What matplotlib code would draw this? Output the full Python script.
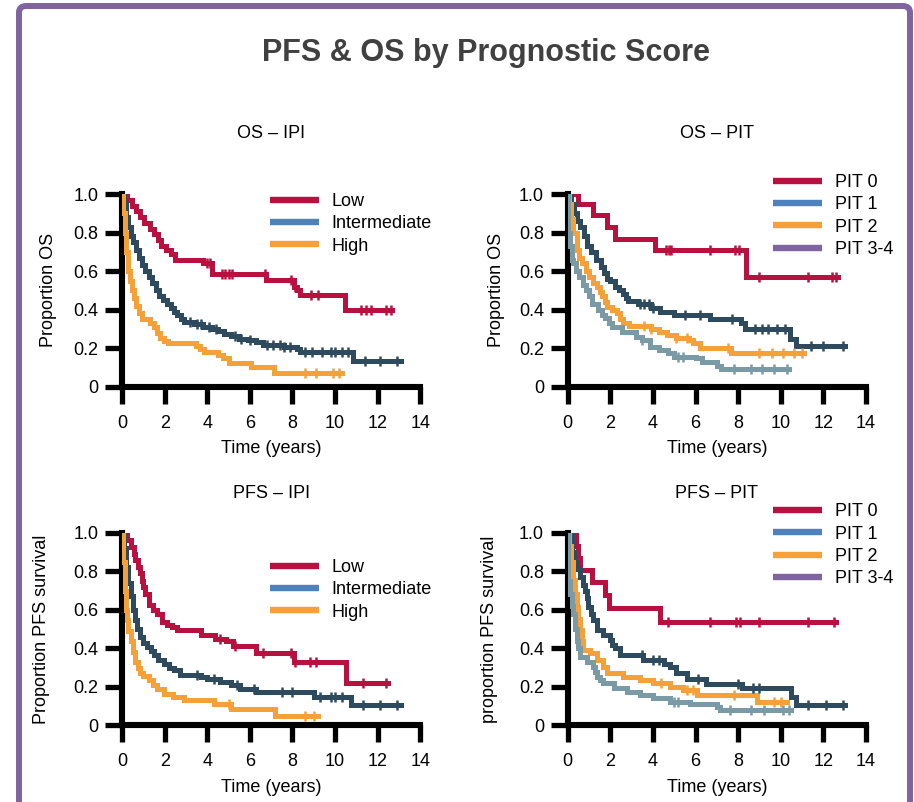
import numpy as np
import matplotlib
matplotlib.use("Agg")
import matplotlib.pyplot as plt
from matplotlib.lines import Line2D
from matplotlib.patches import FancyBboxPatch

plt.rcParams['font.family'] = ['Liberation Sans', 'DejaVu Sans']

# ---- colours ----
RED = '#B8113F'
SLATE = '#2E4A5E'
ORANGE = '#F6A03A'
GREYBLUE = '#7A9BA6'
KEY_BLUE = '#4F81BD'
KEY_PURPLE = '#8064A2'
FRAME = '#8064A2'

# ---- axis ticks ----
x_ticks = [0, 2, 4, 6, 8, 10, 12, 14]
y_ticks = [0, 0.2, 0.4, 0.6, 0.8, 1.0]
y_tick_labels = ['0', '0.2', '0.4', '0.6', '0.8', '1.0']

# ---- OS by IPI ----
os_ipi_low_t = [0, 0.25, 0.45, 0.65, 0.85, 1.05, 1.3, 1.5, 1.7, 1.85, 2.05, 2.3, 2.5, 3.8, 4.2, 6.75, 8.05, 8.2, 8.35, 10.45]
os_ipi_low_s = [1.0, 0.97, 0.94, 0.91, 0.88, 0.85, 0.82, 0.79, 0.76, 0.73, 0.71, 0.69, 0.66, 0.64, 0.586, 0.555, 0.52, 0.50, 0.477, 0.40]
os_ipi_low_end = 12.65
os_ipi_low_cens = [4.0, 4.15, 4.7, 4.85, 5.0, 5.15, 6.7, 7.95, 8.1, 8.85, 9.2, 11.2, 11.45, 11.7, 12.4, 12.6]

os_ipi_int_t = [0, 0.1, 0.2, 0.3, 0.4, 0.5, 0.65, 0.8, 0.95, 1.1, 1.25, 1.4, 1.6, 1.75, 1.9, 2.1, 2.3, 2.45, 2.6, 2.75, 2.9, 3.4, 3.8, 4.2, 4.5, 4.8, 5.1, 5.5, 5.9, 6.3, 6.6, 7.6, 8.2, 8.35, 10.85]
os_ipi_int_s = [1.0, 0.95, 0.88, 0.83, 0.78, 0.75, 0.71, 0.67, 0.63, 0.60, 0.57, 0.54, 0.50, 0.47, 0.45, 0.43, 0.41, 0.39, 0.37, 0.35, 0.335, 0.325, 0.31, 0.30, 0.29, 0.275, 0.265, 0.25, 0.24, 0.23, 0.215, 0.205, 0.195, 0.182, 0.135]
os_ipi_int_end = 13.1
os_ipi_int_cens = [3.2, 3.5, 3.7, 4.1, 4.4, 5.3, 5.6, 6.0, 6.8, 7.1, 7.4, 7.6, 7.9, 8.6, 8.9, 9.4, 9.8, 10.0, 10.3, 10.6, 11.4, 12.1, 12.9]

os_ipi_high_t = [0, 0.05, 0.12, 0.2, 0.28, 0.38, 0.45, 0.55, 0.65, 0.8, 0.95, 1.3, 1.5, 1.65, 1.8, 1.95, 2.15, 3.45, 3.65, 3.85, 4.5, 4.75, 5.0, 6.05, 7.15]
os_ipi_high_s = [1.0, 0.9, 0.8, 0.7, 0.6, 0.55, 0.5, 0.46, 0.42, 0.38, 0.35, 0.33, 0.31, 0.28, 0.255, 0.235, 0.225, 0.21, 0.195, 0.18, 0.165, 0.147, 0.125, 0.104, 0.07]
os_ipi_high_end = 10.3
os_ipi_high_cens = [8.6, 9.1, 9.9, 10.2]

# ---- OS by PIT ----
os_pit0_t = [0, 0.5, 1.2, 1.85, 2.2, 4.1, 8.35]
os_pit0_s = [1.0, 0.948, 0.89, 0.83, 0.768, 0.71, 0.568]
os_pit0_end = 12.67
os_pit0_cens = [4.6, 4.75, 4.85, 6.7, 7.85, 8.05, 9.0, 11.3, 12.4, 12.6]

os_pit1_t = [0, 0.15, 0.3, 0.45, 0.6, 0.75, 0.9, 1.1, 1.35, 1.55, 1.7, 1.85, 2.0, 2.2, 2.4, 2.6, 2.75, 2.85, 3.3, 3.9, 4.35, 5.0, 6.7, 8.15, 8.3, 10.45, 10.7]
os_pit1_s = [1.0, 0.95, 0.9, 0.86, 0.83, 0.78, 0.73, 0.70, 0.66, 0.62, 0.59, 0.56, 0.55, 0.52, 0.50, 0.48, 0.46, 0.445, 0.43, 0.41, 0.39, 0.37, 0.35, 0.33, 0.298, 0.25, 0.211]
os_pit1_end = 13.0
os_pit1_cens = [3.4, 3.6, 3.8, 4.0, 5.5, 6.2, 7.7, 8.8, 9.1, 9.4, 9.8, 10.2, 11.4, 12.0, 12.9]

os_pit2_t = [0, 0.05, 0.15, 0.27, 0.42, 0.55, 0.66, 0.85, 1.0, 1.2, 1.37, 1.5, 1.6, 1.75, 1.84, 2.1, 2.3, 2.45, 2.6, 2.9, 3.9, 4.3, 4.66, 5.1, 5.7, 5.9, 6.2, 7.65]
os_pit2_s = [1.0, 0.95, 0.87, 0.8, 0.71, 0.67, 0.64, 0.6, 0.57, 0.54, 0.52, 0.49, 0.47, 0.44, 0.416, 0.40, 0.38, 0.35, 0.33, 0.317, 0.30, 0.286, 0.27, 0.255, 0.24, 0.225, 0.203, 0.173]
os_pit2_end = 11.1
os_pit2_cens = [3.6, 3.9, 5.1, 5.6, 7.5, 9.0, 9.6, 10.1, 10.6, 11.0]

os_pit34_t = [0, 0.02, 0.1, 0.2, 0.27, 0.4, 0.55, 0.7, 0.85, 1.0, 1.15, 1.4, 1.6, 1.75, 1.95, 2.1, 2.55, 3.2, 3.5, 3.85, 4.3, 4.7, 5.0, 6.0, 6.3, 7.0, 7.2]
os_pit34_s = [1.0, 0.8, 0.73, 0.66, 0.64, 0.6, 0.57, 0.53, 0.5, 0.47, 0.43, 0.40, 0.37, 0.355, 0.33, 0.31, 0.286, 0.26, 0.243, 0.208, 0.19, 0.175, 0.156, 0.147, 0.13, 0.11, 0.09]
os_pit34_end = 10.4
os_pit34_cens = [3.5, 5.2, 5.4, 7.8, 8.6, 9.1, 9.7, 10.3]

# ---- PFS by IPI ----
pfs_ipi_low_t = [0, 0.25, 0.4, 0.55, 0.63, 0.75, 0.86, 0.95, 1.0, 1.1, 1.25, 1.45, 1.64, 1.88, 2.1, 2.35, 2.6, 3.7, 4.35, 4.9, 5.2, 6.3, 8.05, 10.5]
pfs_ipi_low_s = [1.0, 0.96, 0.927, 0.89, 0.858, 0.82, 0.79, 0.75, 0.72, 0.68, 0.624, 0.60, 0.58, 0.537, 0.52, 0.51, 0.494, 0.468, 0.45, 0.437, 0.412, 0.376, 0.33, 0.222]
pfs_ipi_low_end = 12.5
pfs_ipi_low_cens = [4.6, 5.3, 6.6, 7.95, 8.1, 8.8, 9.1, 11.3, 12.4]

pfs_ipi_int_t = [0, 0.1, 0.2, 0.3, 0.4, 0.5, 0.6, 0.72, 0.86, 1.0, 1.17, 1.35, 1.5, 1.7, 1.95, 2.2, 2.43, 2.7, 3.7, 4.0, 4.6, 5.1, 5.55, 6.3, 9.0, 10.75]
pfs_ipi_int_s = [1.0, 0.92, 0.82, 0.74, 0.67, 0.6, 0.546, 0.50, 0.46, 0.43, 0.407, 0.385, 0.364, 0.34, 0.32, 0.30, 0.286, 0.26, 0.25, 0.243, 0.225, 0.208, 0.19, 0.173, 0.15, 0.104]
pfs_ipi_int_end = 13.1
pfs_ipi_int_cens = [3.5, 4.3, 5.4, 6.2, 7.5, 8.0, 9.3, 9.8, 10.0, 10.3, 11.3, 12.1, 12.9]

pfs_ipi_high_t = [0, 0.05, 0.12, 0.18, 0.23, 0.3, 0.4, 0.5, 0.63, 0.75, 0.86, 1.0, 1.25, 1.45, 1.64, 1.96, 2.4, 2.9, 4.3, 5.1, 7.2]
pfs_ipi_high_s = [1.0, 0.85, 0.7, 0.6, 0.546, 0.49, 0.44, 0.38, 0.33, 0.3, 0.27, 0.255, 0.234, 0.21, 0.19, 0.165, 0.147, 0.13, 0.109, 0.087, 0.047]
pfs_ipi_high_end = 9.2
pfs_ipi_high_cens = [5.0, 8.6, 9.0]

# ---- PFS by PIT ----
pfs_pit0_t = [0, 0.4, 0.5, 0.58, 1.13, 1.75, 1.95, 4.33]
pfs_pit0_s = [1.0, 0.93, 0.87, 0.806, 0.746, 0.677, 0.611, 0.539]
pfs_pit0_end = 12.6
pfs_pit0_cens = [4.7, 6.7, 7.9, 8.1, 9.0, 11.3, 12.5]

pfs_pit1_t = [0, 0.2, 0.3, 0.45, 0.58, 0.7, 0.81, 0.9, 0.97, 1.1, 1.2, 1.36, 1.67, 1.99, 2.1, 2.2, 2.46, 3.55, 4.5, 4.8, 5.1, 5.6, 6.5, 8.2, 10.5, 10.7]
pfs_pit1_s = [1.0, 0.9, 0.85, 0.81, 0.77, 0.73, 0.70, 0.66, 0.617, 0.58, 0.548, 0.496, 0.47, 0.444, 0.42, 0.40, 0.366, 0.34, 0.32, 0.306, 0.271, 0.24, 0.216, 0.195, 0.15, 0.104]
pfs_pit1_end = 13.0
pfs_pit1_cens = [3.5, 4.0, 4.3, 6.1, 8.0, 8.7, 9.0, 11.3, 12.1, 12.9]

pfs_pit2_t = [0, 0.05, 0.15, 0.27, 0.35, 0.42, 0.5, 0.58, 0.65, 0.73, 1.05, 1.36, 1.67, 1.83, 2.6, 3.4, 4.0, 4.8, 5.4, 6.05, 8.9]
pfs_pit2_s = [1.0, 0.93, 0.85, 0.755, 0.68, 0.617, 0.55, 0.496, 0.44, 0.392, 0.375, 0.34, 0.306, 0.271, 0.254, 0.237, 0.22, 0.202, 0.185, 0.159, 0.121]
pfs_pit2_end = 10.3
pfs_pit2_cens = [4.4, 5.6, 5.9, 7.8, 9.7, 10.0]

pfs_pit34_t = [0, 0.02, 0.1, 0.2, 0.27, 0.35, 0.42, 0.5, 0.58, 0.9, 1.2, 1.3, 1.36, 1.5, 1.67, 2.15, 2.77, 3.4, 4.0, 4.8, 5.75, 7.0, 7.15]
pfs_pit34_s = [1.0, 0.75, 0.68, 0.62, 0.58, 0.5, 0.44, 0.4, 0.357, 0.33, 0.306, 0.28, 0.254, 0.235, 0.22, 0.193, 0.176, 0.159, 0.142, 0.124, 0.112, 0.098, 0.081]
pfs_pit34_end = 10.5
pfs_pit34_cens = [5.0, 5.2, 7.6, 8.6, 9.2, 10.1, 10.4]

ipi_labels = ['Low', 'Intermediate', 'High']
pit_labels = ['PIT 0', 'PIT 1', 'PIT 2', 'PIT 3-4']


def km_curve(ax, t, s, end, cens, color):
    t = np.asarray(t, float)
    s = np.asarray(s, float)
    x = np.append(t, end)
    y = np.append(s, s[-1])
    ax.step(x, y, where='post', color=color, lw=3.6, solid_joinstyle='miter', zorder=3)
    cens = np.asarray(cens, float)
    idx = np.searchsorted(t, cens, side='right') - 1
    ax.plot(cens, s[idx], ls='none', marker='|', ms=7.5, mew=1.8, color=color, zorder=4)


def style_axes(ax, ylabel, ylabelpad):
    ax.set_xlim(0, 14)
    ax.set_ylim(0, 1.0)
    for side in ('top', 'right'):
        ax.spines[side].set_visible(False)
    for side in ('left', 'bottom'):
        ax.spines[side].set_linewidth(4.4)
        ax.spines[side].set_color('black')
        ax.spines[side].set_capstyle('projecting')
    ax.set_xticks(x_ticks)
    ax.set_yticks(y_ticks)
    ax.set_yticklabels(y_tick_labels)
    ax.tick_params(direction='out', length=12, width=3.8, labelsize=13, colors='black')
    ax.tick_params(axis='y', pad=5)
    ax.tick_params(axis='x', pad=8)
    ax.set_xlabel('Time (years)', fontsize=13, labelpad=6)
    ax.set_ylabel(ylabel, fontsize=13, labelpad=ylabelpad)
    ax.patch.set_alpha(0)


def key(ax, labels, colors, anchor):
    handles = [Line2D([], [], color=c, lw=4.6, solid_capstyle='butt') for c in colors]
    ax.legend(handles, labels, loc='upper left', bbox_to_anchor=anchor, frameon=False,
              fontsize=13, handlelength=2.7, handletextpad=0.7, labelspacing=0.3,
              borderpad=0, borderaxespad=0)


fig = plt.figure(figsize=(9.14, 8.02), dpi=100)

# outer frame
frame = FancyBboxPatch((19 / 914, -0.05), (910 - 19) / 914, (796 / 802) + 0.05,
                       boxstyle='round,pad=0,rounding_size=0.008', transform=fig.transFigure,
                       fill=False, edgecolor=FRAME, linewidth=4.3, clip_on=False, zorder=0)
fig.patches.append(frame)

fig.text(486 / 914, 1 - 53 / 802, 'PFS & OS by Prognostic Score', ha='center', va='center',
         fontsize=22, fontweight='bold', color='#404040')

W, H = 0.3264, 0.2403
ax1 = fig.add_axes([0.1335, 0.5178, W, H])
ax2 = fig.add_axes([0.6211, 0.5178, W, H])
ax3 = fig.add_axes([0.1335, 0.0954, W, H])
ax4 = fig.add_axes([0.6211, 0.0954, W, H])

# OS - IPI
km_curve(ax1, os_ipi_low_t, os_ipi_low_s, os_ipi_low_end, os_ipi_low_cens, RED)
km_curve(ax1, os_ipi_int_t, os_ipi_int_s, os_ipi_int_end, os_ipi_int_cens, SLATE)
km_curve(ax1, os_ipi_high_t, os_ipi_high_s, os_ipi_high_end, os_ipi_high_cens, ORANGE)
style_axes(ax1, 'Proportion OS', 12)
key(ax1, ipi_labels, [RED, KEY_BLUE, ORANGE], (0.497, 1.006))
ax1.text(0.5, 1.312, 'OS \u2013 IPI', transform=ax1.transAxes, ha='center', va='center', fontsize=13)

# OS - PIT
km_curve(ax2, os_pit0_t, os_pit0_s, os_pit0_end, os_pit0_cens, RED)
km_curve(ax2, os_pit1_t, os_pit1_s, os_pit1_end, os_pit1_cens, SLATE)
km_curve(ax2, os_pit2_t, os_pit2_s, os_pit2_end, os_pit2_cens, ORANGE)
km_curve(ax2, os_pit34_t, os_pit34_s, os_pit34_end, os_pit34_cens, GREYBLUE)
style_axes(ax2, 'Proportion OS', 10)
key(ax2, pit_labels, [RED, KEY_BLUE, ORANGE, KEY_PURPLE], (0.689, 1.104))
ax2.text(0.5, 1.312, 'OS \u2013 PIT', transform=ax2.transAxes, ha='center', va='center', fontsize=13)

# PFS - IPI
km_curve(ax3, pfs_ipi_low_t, pfs_ipi_low_s, pfs_ipi_low_end, pfs_ipi_low_cens, RED)
km_curve(ax3, pfs_ipi_int_t, pfs_ipi_int_s, pfs_ipi_int_end, pfs_ipi_int_cens, SLATE)
km_curve(ax3, pfs_ipi_high_t, pfs_ipi_high_s, pfs_ipi_high_end, pfs_ipi_high_cens, ORANGE)
style_axes(ax3, 'Proportion PFS survival', 17)
key(ax3, ipi_labels, [RED, KEY_BLUE, ORANGE], (0.497, 0.864))
ax3.text(0.5, 1.206, 'PFS \u2013 IPI', transform=ax3.transAxes, ha='center', va='center', fontsize=13)

# PFS - PIT
km_curve(ax4, pfs_pit0_t, pfs_pit0_s, pfs_pit0_end, pfs_pit0_cens, RED)
km_curve(ax4, pfs_pit1_t, pfs_pit1_s, pfs_pit1_end, pfs_pit1_cens, SLATE)
km_curve(ax4, pfs_pit2_t, pfs_pit2_s, pfs_pit2_end, pfs_pit2_cens, ORANGE)
km_curve(ax4, pfs_pit34_t, pfs_pit34_s, pfs_pit34_end, pfs_pit34_cens, GREYBLUE)
style_axes(ax4, 'proportion PFS survival', 15)
key(ax4, pit_labels, [RED, KEY_BLUE, ORANGE, KEY_PURPLE], (0.689, 1.154))
ax4.text(0.5, 1.206, 'PFS \u2013 PIT', transform=ax4.transAxes, ha='center', va='center', fontsize=13)

fig.savefig('out.png', dpi=100)
